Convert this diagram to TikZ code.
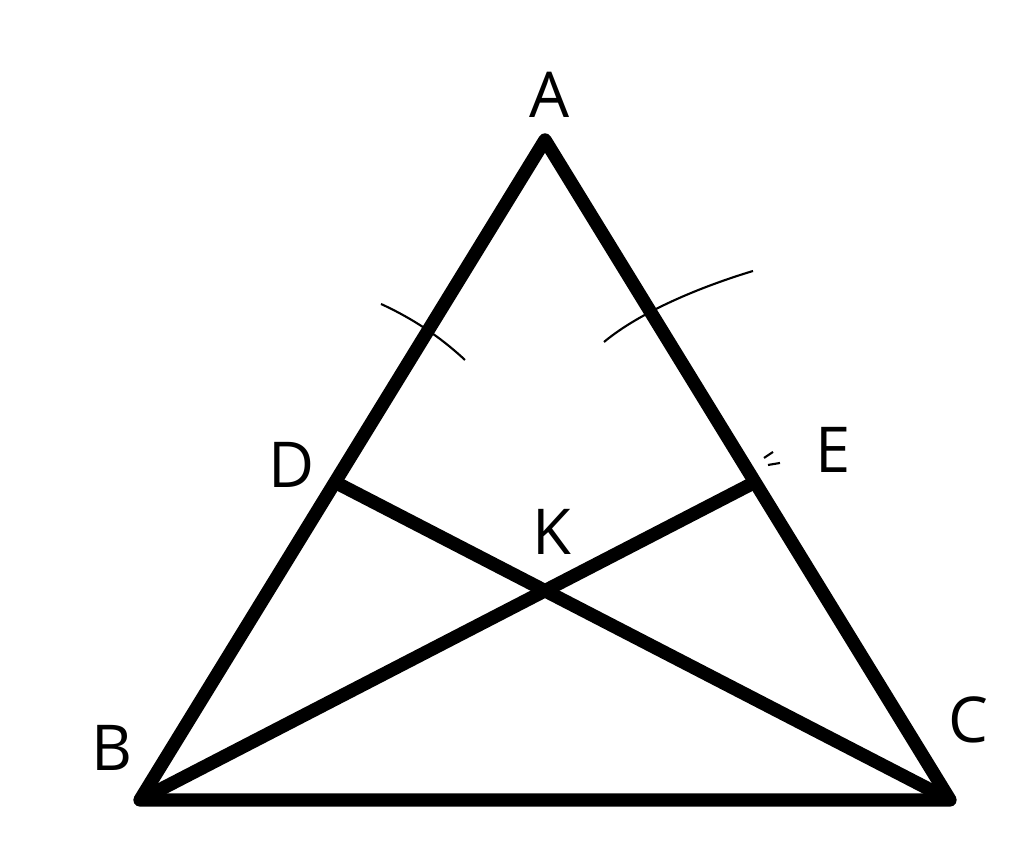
\documentclass[tikz,border=0pt]{standalone}
\usepackage{fontspec}
\setmainfont{Open Sans}
\usetikzlibrary{calc}

\tikzset{
	side/.style={line width=3.8pt, line join=round},
	tickline/.style={line width=0.6pt},
	lbl/.style={font=\fontsize{18}{20}\selectfont, inner sep=0pt}
}

\begin{document}
\begin{tikzpicture}
		\useasboundingbox (0,0) rectangle (10.24,8.47);
		% vertices
		\coordinate (A) at (5.45,7.07);
		\coordinate (B) at (1.40,0.47);
		\coordinate (C) at (9.50,0.47);
		\coordinate (D) at ($(A)!0.5185!(B)$);
		\coordinate (E) at ($(A)!0.5185!(C)$);
		\coordinate (K) at (intersection of B--E and C--D);
        % triangle
		\draw[side] (A) -- (B) -- (C) -- cycle;
        % cevians
		\draw[side] (B) -- (E);
		\draw[side] (C) -- (D);
        % marks
		\draw[tickline] (3.81,5.43) .. controls (4.05,5.32) and (4.35,5.15) .. (4.65,4.87);
		\draw[tickline] (6.04,5.05) .. controls (6.40,5.35) and (7.00,5.60) .. (7.53,5.76);
		\draw[tickline] (7.64,3.89) -- (7.73,3.95);
		\draw[tickline] (7.68,3.82) -- (7.80,3.84);
        % Labels
		\node[lbl] (lA) at (5.50,7.52) {A};
		\node[lbl] (lB) at (1.12,0.99) {B};
		\node[lbl] (lC) at (9.68,1.27) {C};
		\node[lbl] (lD) at (2.92,3.82) {D};
		\node[lbl] (lE) at (8.33,3.97) {E};
		\node[lbl] (lK) at (5.52,3.15) {K};
	\end{tikzpicture}
\end{document}
